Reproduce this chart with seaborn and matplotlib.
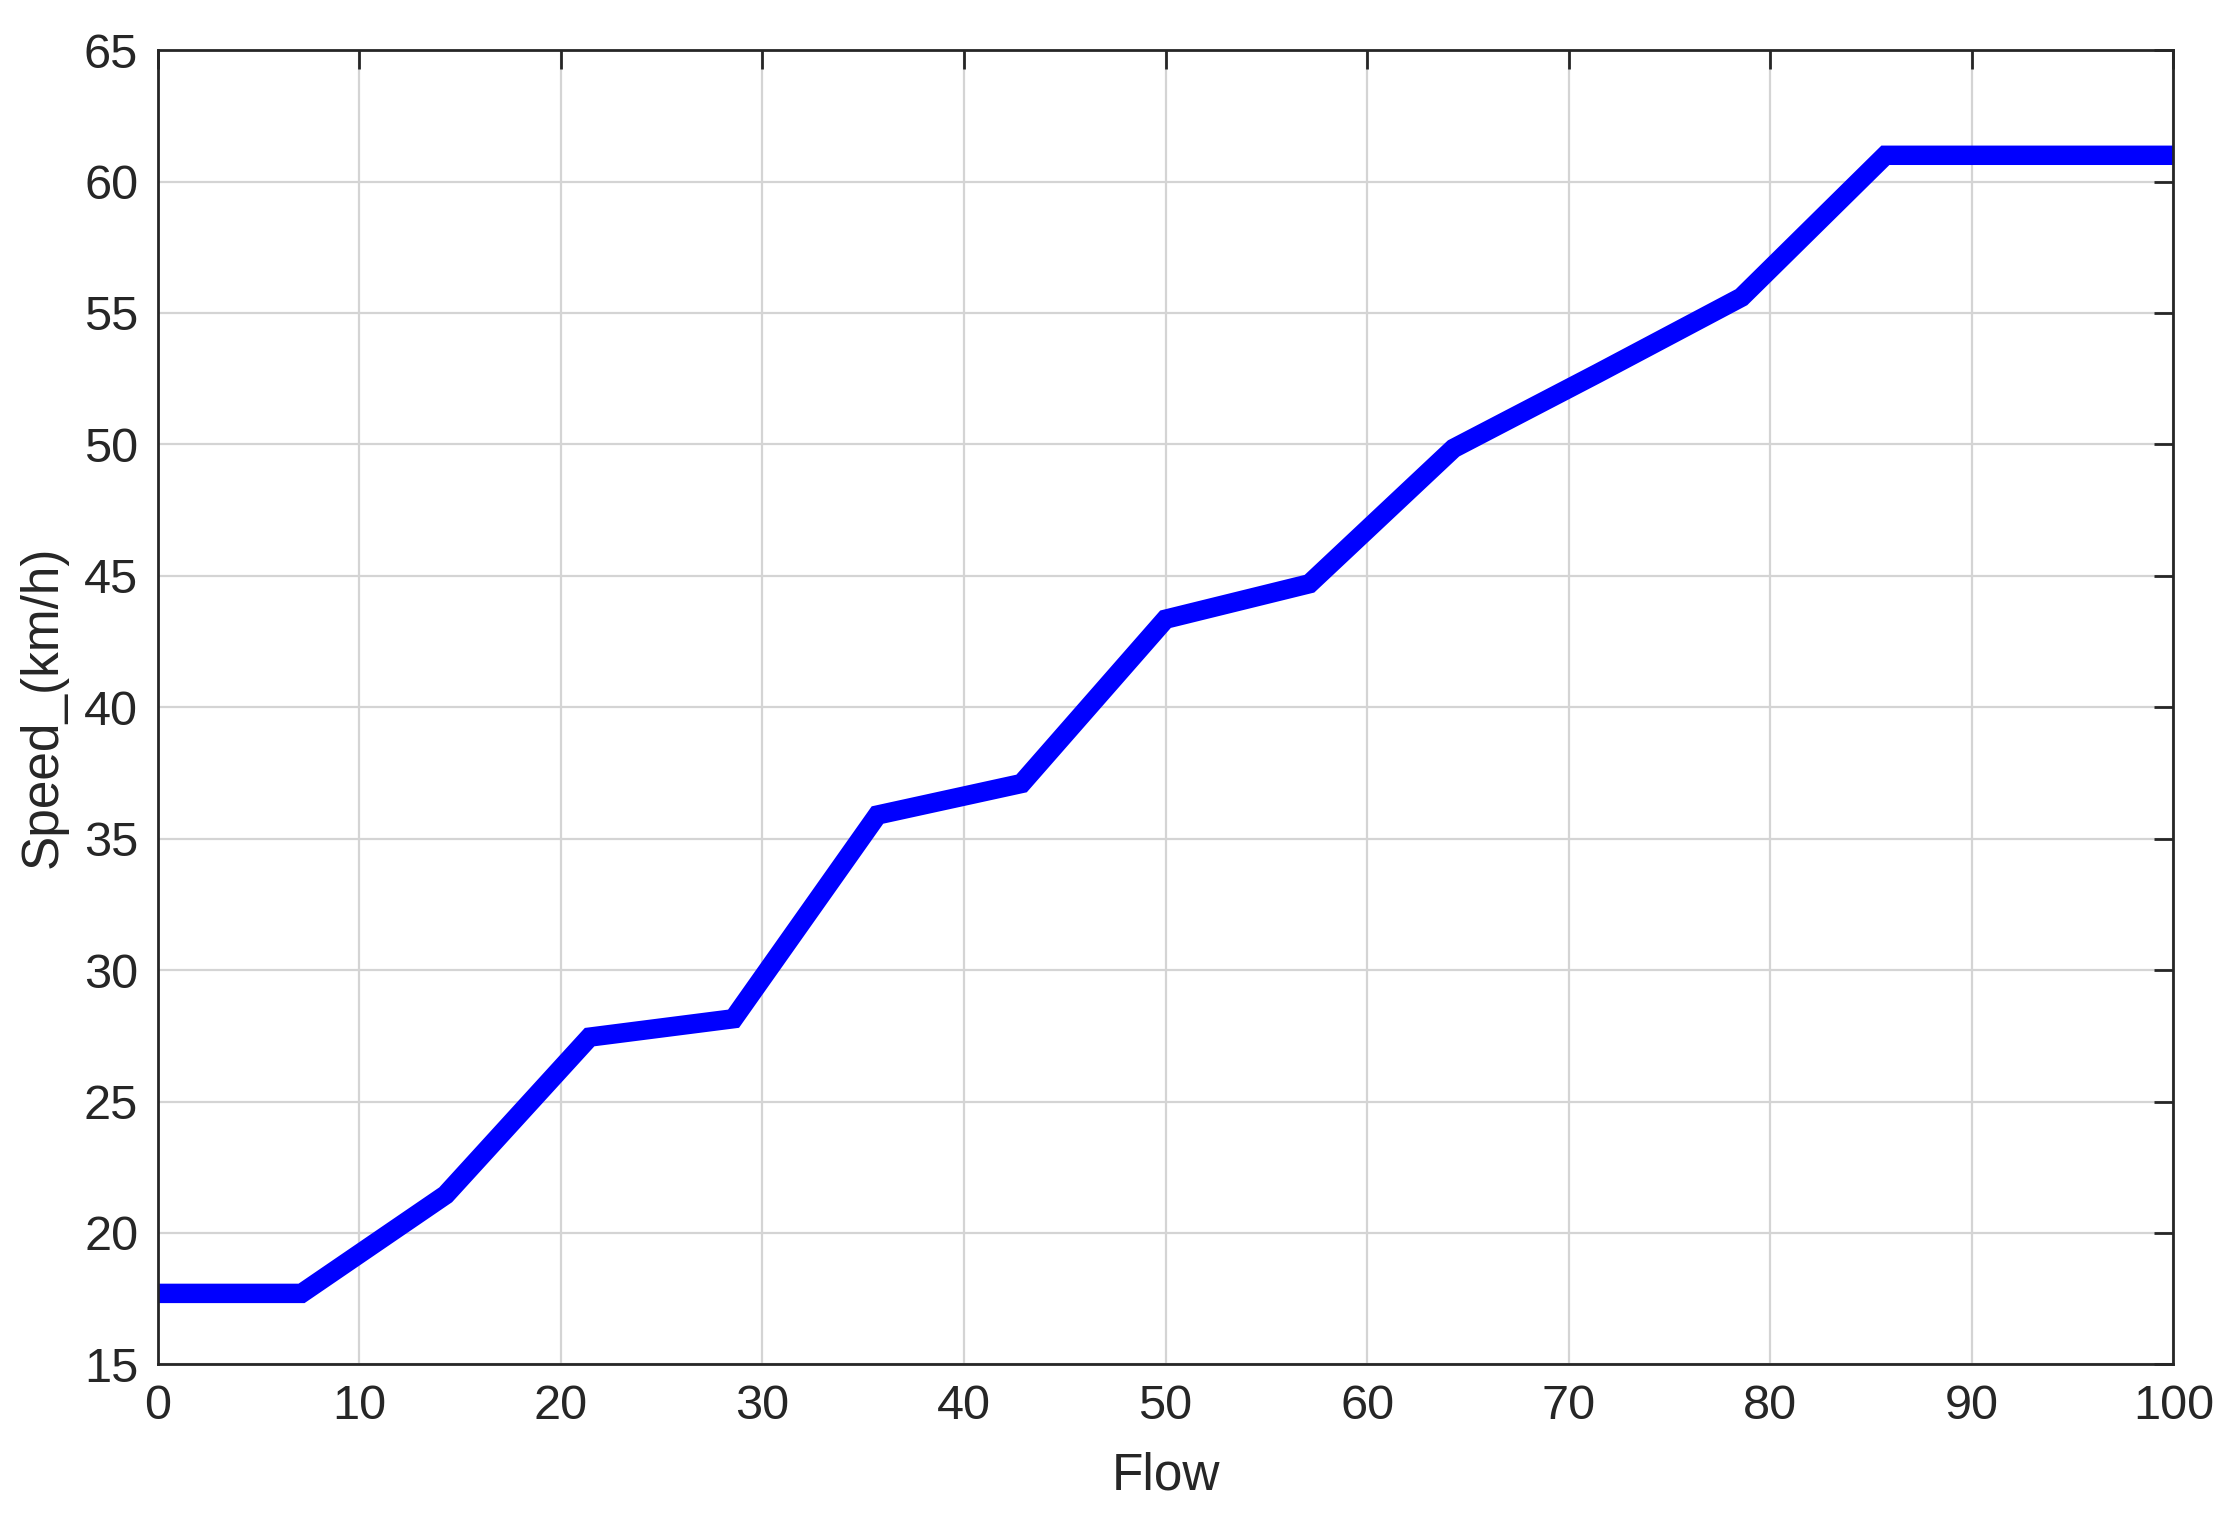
import numpy as np
import pandas as pd
import matplotlib
matplotlib.use("Agg")
import matplotlib.pyplot as plt
import seaborn as sns

# values (piecewise linear, 15 knots)
flow = [0, 7.14, 14.29, 21.43, 28.57, 35.71, 42.86, 50.0,
        57.14, 64.29, 71.43, 78.57, 85.71, 92.86, 100]
speed = [17.7, 17.7, 21.45, 27.45, 28.15, 35.9, 37.1, 43.35,
         44.7, 49.85, 52.7, 55.6, 61.0, 61.0, 61.0]

df = pd.DataFrame({"Flow": flow, "Speed": speed})

sns.set_style("white")
plt.rcParams['font.family'] = ['Liberation Sans', 'DejaVu Sans']
plt.rcParams['text.color'] = '#262626'
plt.rcParams['axes.labelcolor'] = '#262626'
plt.rcParams['xtick.color'] = '#262626'
plt.rcParams['ytick.color'] = '#262626'

fig = plt.figure(figsize=(11.13, 7.6), dpi=200)
ax = fig.add_axes([0.0708, 0.1024, 0.9056, 0.8646])

sns.lineplot(data=df, x="Flow", y="Speed", color="#0000ff", linewidth=7,
             ax=ax, solid_joinstyle="miter", solid_capstyle="butt")

ax.set_xlim(0, 100)
ax.set_ylim(15, 65)
ax.set_xticks(np.arange(0, 101, 10))
ax.set_yticks(np.arange(15, 66, 5))
ax.grid(True, color="#d4d4d4", linewidth=0.8)
ax.set_axisbelow(True)

ax.tick_params(direction="in", top=True, right=True, length=7, width=1.0,
               labelsize=17.5, pad=7)
for s in ax.spines.values():
    s.set_color("#262626")
    s.set_linewidth(1.0)

ax.set_xlabel("Flow", fontsize=18.5, labelpad=8)
ax.set_ylabel("Speed_(km/h)", fontsize=18.5, labelpad=6)

fig.savefig("out.png", dpi=200)
